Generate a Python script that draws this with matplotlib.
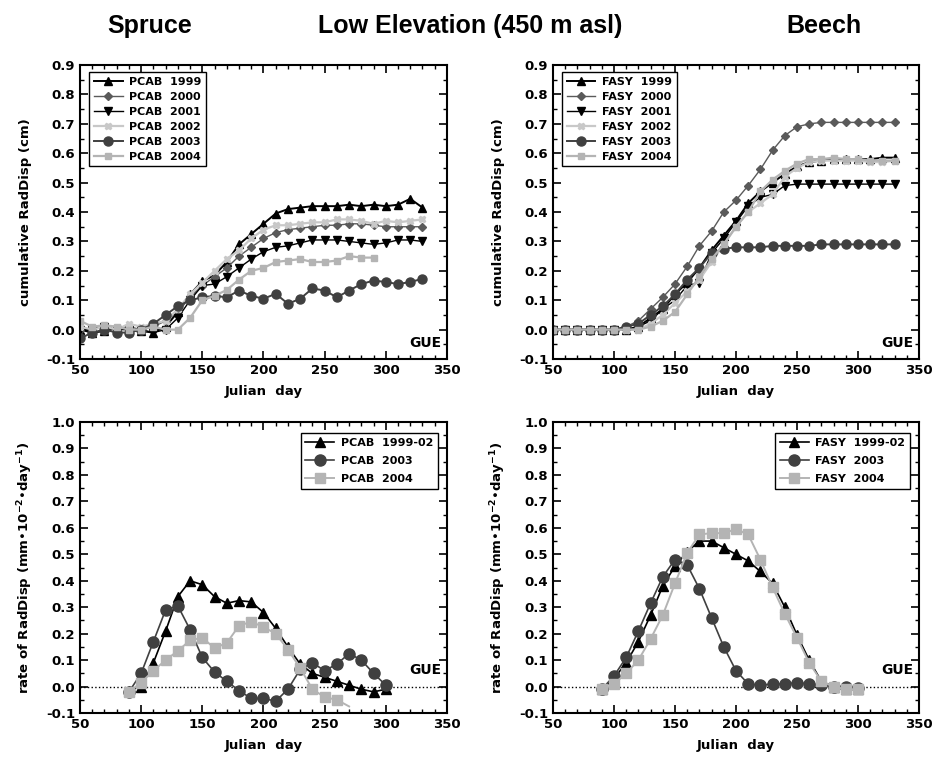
"""Radial displacement, low elevation site (450 m asl): spruce (PCAB) vs beech (FASY).
Top: cumulative RadDisp per year. Bottom: rate of RadDisp.
"""
import matplotlib
matplotlib.use('Agg')
import matplotlib.pyplot as plt
from matplotlib.lines import Line2D
from matplotlib.legend_handler import HandlerLine2D
from matplotlib.ticker import MultipleLocator, FormatStrFormatter

plt.rcParams['font.family'] = ['DejaVu Sans']
plt.rcParams['font.weight'] = 'bold'
plt.rcParams['axes.labelweight'] = 'bold'
plt.rcParams['mathtext.default'] = 'bf'

# ---- cumulative RadDisp (cm), every 10 days ----
days_cum = list(range(50, 340, 10))          # 50..330
days_pcab04 = list(range(50, 300, 10))       # 50..290

pcab_1999 = [0.00, -0.01, -0.005, 0.005, 0.00, -0.005, -0.01, 0.01, 0.06, 0.12,
             0.165, 0.185, 0.23, 0.29, 0.325, 0.36, 0.395, 0.41, 0.415, 0.42,
             0.42, 0.42, 0.425, 0.42, 0.425, 0.42, 0.425, 0.445, 0.415]
pcab_2000 = [0.00, 0.005, 0.01, 0.00, 0.01, 0.00, 0.01, 0.03, 0.06, 0.11,
             0.15, 0.18, 0.21, 0.25, 0.28, 0.31, 0.33, 0.34, 0.345, 0.35,
             0.355, 0.355, 0.36, 0.36, 0.355, 0.35, 0.35, 0.35, 0.35]
pcab_2001 = [0.00, 0.00, 0.01, 0.00, 0.00, 0.00, -0.01, 0.00, 0.04, 0.10,
             0.15, 0.155, 0.18, 0.21, 0.24, 0.265, 0.28, 0.285, 0.295, 0.305,
             0.305, 0.305, 0.30, 0.295, 0.29, 0.295, 0.305, 0.305, 0.30]
pcab_2002 = [0.01, 0.00, 0.01, 0.00, 0.02, 0.01, 0.02, 0.03, 0.07, 0.12,
             0.16, 0.20, 0.24, 0.27, 0.31, 0.34, 0.355, 0.355, 0.36, 0.365,
             0.365, 0.375, 0.375, 0.37, 0.36, 0.37, 0.365, 0.37, 0.375]
pcab_2003 = [-0.03, -0.01, 0.00, -0.01, -0.01, 0.00, 0.02, 0.05, 0.08, 0.10,
             0.11, 0.115, 0.11, 0.133, 0.115, 0.105, 0.122, 0.088, 0.105, 0.14,
             0.133, 0.11, 0.133, 0.155, 0.167, 0.162, 0.155, 0.162, 0.173]
pcab_2004 = [0.03, 0.01, 0.015, 0.01, 0.00, 0.00, 0.01, 0.00, 0.00, 0.04,
             0.10, 0.115, 0.135, 0.17, 0.20, 0.21, 0.23, 0.235, 0.24, 0.23,
             0.23, 0.235, 0.25, 0.245, 0.245]

fasy_1999 = [0, 0, 0, 0, 0, 0, 0, 0.01, 0.04,
             0.07, 0.12, 0.16, 0.21, 0.27, 0.32, 0.37, 0.43, 0.47, 0.50,
             0.53, 0.555, 0.57, 0.575, 0.58, 0.58, 0.58, 0.58, 0.585, 0.585]
fasy_2000 = [0, 0, 0, 0, 0, 0, 0.01, 0.03, 0.07,
             0.11, 0.155, 0.215, 0.285, 0.335, 0.40, 0.44, 0.49, 0.545, 0.61,
             0.66, 0.69, 0.70, 0.705, 0.705, 0.705, 0.705, 0.705, 0.705, 0.705]
fasy_2001 = [0, 0, 0, 0, 0, 0, 0, 0.01, 0.03,
             0.07, 0.10, 0.15, 0.16, 0.26, 0.31, 0.365, 0.42, 0.45, 0.46,
             0.49, 0.495, 0.495, 0.495, 0.495, 0.495, 0.495, 0.495, 0.495, 0.495]
fasy_2002 = [0, 0, 0, 0, 0, 0, 0, 0.00, 0.02,
             0.05, 0.09, 0.13, 0.17, 0.23, 0.29, 0.35, 0.40, 0.43, 0.46,
             0.52, 0.55, 0.57, 0.575, 0.575, 0.575, 0.575, 0.57, 0.57, 0.575]
fasy_2003 = [0, 0, 0, 0, 0, 0, 0.01, 0.02, 0.05,
             0.08, 0.12, 0.17, 0.21, 0.26, 0.275, 0.28, 0.28, 0.28, 0.285,
             0.285, 0.285, 0.285, 0.29, 0.29, 0.29, 0.29, 0.29, 0.29, 0.29]
fasy_2004 = [0, 0, 0, 0, 0, 0, 0, 0, 0.01,
             0.03, 0.06, 0.12, 0.18, 0.24, 0.29, 0.35, 0.40, 0.47, 0.51,
             0.54, 0.565, 0.58, 0.58, 0.585, 0.58, 0.58, 0.575, 0.575, 0.575]

# ---- rate of RadDisp (mm 10^-2 day^-1) ----
days_rate = list(range(90, 310, 10))         # 90..300
days_pcab04_rate = list(range(90, 280, 10))  # 90..270

rate_pcab_9902 = [-0.015, 0.00, 0.09, 0.21, 0.34, 0.40, 0.385, 0.34, 0.315, 0.325, 0.32,
                  0.28, 0.22, 0.15, 0.085, 0.05, 0.035, 0.02, 0.005, -0.01, -0.02, -0.01]
rate_pcab_2003 = [-0.02, 0.05, 0.17, 0.29, 0.305, 0.215, 0.11, 0.055, 0.02, -0.015, -0.045,
                  -0.045, -0.055, -0.01, 0.065, 0.09, 0.06, 0.085, 0.125, 0.10, 0.05, 0.005]
rate_pcab_2004 = [-0.02, 0.015, 0.06, 0.10, 0.135, 0.175, 0.185, 0.145, 0.165, 0.23,
                  0.245, 0.225, 0.20, 0.14, 0.07, -0.01, -0.04, -0.05, -0.075]

rate_fasy_9902 = [-0.01, 0.03, 0.09, 0.17, 0.27, 0.38, 0.455, 0.51, 0.55, 0.55, 0.525,
                  0.50, 0.475, 0.435, 0.39, 0.30, 0.195, 0.10, 0.02, 0.00, -0.01, -0.01]
rate_fasy_2003 = [-0.01, 0.04, 0.11, 0.21, 0.315, 0.415, 0.48, 0.46, 0.37, 0.26, 0.15,
                  0.06, 0.01, 0.005, 0.01, 0.01, 0.015, 0.01, 0.005, 0.00, 0.00, -0.005]
rate_fasy_2004 = [-0.01, 0.01, 0.05, 0.10, 0.18, 0.27, 0.39, 0.505, 0.575, 0.58, 0.58,
                  0.595, 0.575, 0.48, 0.375, 0.275, 0.185, 0.09, 0.02, 0.00, -0.01, -0.01]

sty = {
    '1999': dict(color='black', marker='^', lw=1.4, ms=6),
    '2000': dict(color='#5a5a5a', marker='D', lw=1.0, ms=4.5),
    '2001': dict(color='black', marker='v', lw=1.0, ms=6),
    '2002': dict(color='#c8c8c8', marker='X', lw=1.6, ms=5),
    '2003': dict(color='#404040', marker='o', lw=1.4, ms=6.5),
    '2004': dict(color='#b4b4b4', marker='s', lw=1.6, ms=5),
}


class MarkerLeft(HandlerLine2D):
    # IDL-style legend: symbol at the left end of the line
    def get_xdata(self, legend, xdescent, ydescent, width, height, fontsize):
        return [-xdescent, -xdescent + width], [-xdescent + 0.12 * width]


def style_ax(ax, ymin, ymax):
    ax.set_xlim(50, 350)
    ax.set_ylim(ymin, ymax)
    ax.xaxis.set_major_locator(MultipleLocator(50))
    ax.xaxis.set_minor_locator(MultipleLocator(10))
    ax.yaxis.set_major_locator(MultipleLocator(0.1))
    ax.yaxis.set_minor_locator(MultipleLocator(0.05))
    ax.yaxis.set_major_formatter(FormatStrFormatter('%.1f'))
    ax.tick_params(which='both', direction='in', top=True, right=True, labelsize=9.5)
    ax.tick_params(which='major', length=6, width=1.2)
    ax.tick_params(which='minor', length=3, width=1.0)
    for s in ax.spines.values():
        s.set_linewidth(1.5)
    ax.set_xlabel('Julian  day', fontsize=9.5, labelpad=6)


def legend(ax, spacing, **kw):
    leg = ax.legend(handler_map={Line2D: MarkerLeft()},
                    fontsize=8, frameon=True, fancybox=False, framealpha=1,
                    edgecolor='black', handlelength=2.6, handletextpad=0.6,
                    labelspacing=spacing, borderpad=0.4, borderaxespad=0, **kw)
    leg.get_frame().set_linewidth(1.0)


fig = plt.figure(figsize=(9.39, 7.6), dpi=100)
ax_tl = fig.add_axes([0.0852, 0.5276, 0.3908, 0.3868])
ax_tr = fig.add_axes([0.5889, 0.5276, 0.3898, 0.3868])
ax_bl = fig.add_axes([0.0852, 0.0618, 0.3908, 0.3829])
ax_br = fig.add_axes([0.5889, 0.0618, 0.3898, 0.3829])

# top left: spruce cumulative
for yr, vals in [('1999', pcab_1999), ('2000', pcab_2000), ('2001', pcab_2001),
                 ('2002', pcab_2002), ('2003', pcab_2003)]:
    ax_tl.plot(days_cum, vals, label=f'PCAB  {yr}', **sty[yr])
ax_tl.plot(days_pcab04, pcab_2004, label='PCAB  2004', **sty['2004'])

# top right: beech cumulative
for yr, vals in [('1999', fasy_1999), ('2000', fasy_2000), ('2001', fasy_2001),
                 ('2002', fasy_2002), ('2003', fasy_2003), ('2004', fasy_2004)]:
    ax_tr.plot(days_cum, vals, label=f'FASY  {yr}', **sty[yr])

for ax in (ax_tl, ax_tr):
    style_ax(ax, -0.1, 0.9)
    ax.set_ylabel('cumulative RadDisp (cm)', fontsize=9.5, labelpad=10)
    legend(ax, 0.45, loc='upper left', bbox_to_anchor=(0.025, 0.976))
    ax.text(0.985, 0.055, 'GUE', transform=ax.transAxes, ha='right', va='center', fontsize=10)

# bottom: rates
ax_bl.plot(days_rate, rate_pcab_9902, label='PCAB  1999-02', **dict(sty['1999'], ms=7, lw=1.2))
ax_bl.plot(days_rate, rate_pcab_2003, label='PCAB  2003', **dict(sty['2003'], ms=8, lw=1.2))
ax_bl.plot(days_pcab04_rate, rate_pcab_2004, label='PCAB  2004',
           markevery=list(range(len(rate_pcab_2004) - 1)), **dict(sty['2004'], ms=7, lw=1.4))

ax_br.plot(days_rate, rate_fasy_9902, label='FASY  1999-02', **dict(sty['1999'], ms=7, lw=1.2))
ax_br.plot(days_rate, rate_fasy_2003, label='FASY  2003', **dict(sty['2003'], ms=8, lw=1.2))
ax_br.plot(days_rate, rate_fasy_2004, label='FASY  2004', **dict(sty['2004'], ms=7, lw=1.4))

for ax in (ax_bl, ax_br):
    style_ax(ax, -0.1, 1.0)
    ax.axhline(0, color='black', ls=':', lw=1.0, zorder=0)
    ax.set_ylabel('rate of RadDisp (mm•10$^{-2}$•day$^{-1}$)', fontsize=9.5, labelpad=8)
    legend(ax, 0.75, loc='upper right', bbox_to_anchor=(0.975, 0.962))
    ax.text(0.985, 0.148, 'GUE', transform=ax.transAxes, ha='right', va='center', fontsize=10)

title_kw = dict(ha='center', va='center', fontsize=18, fontweight='bold', family='Liberation Sans')
fig.text(150 / 939, 1 - 26 / 760, 'Spruce', **title_kw)
fig.text(470 / 939, 1 - 26 / 760, 'Low Elevation (450 m asl)', **title_kw)
fig.text(824 / 939, 1 - 26 / 760, 'Beech', **title_kw)

fig.savefig('out.png', dpi=100)
print('ok')
